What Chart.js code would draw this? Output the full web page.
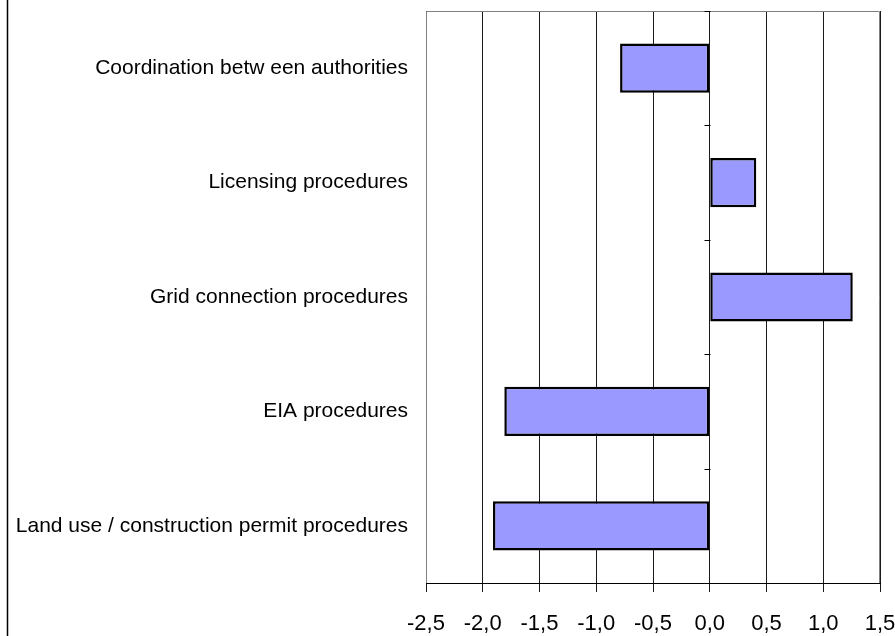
<!DOCTYPE html>
<html>
<head>
<meta charset="utf-8">
<script src="https://cdn.jsdelivr.net/npm/chart.js@4"></script>
<style>
  body { margin: 0; background: #fff; }
  #wrap { position: relative; width: 895px; height: 636px; }
</style>
</head>
<body>
<div id="wrap"><canvas id="myChart" width="895" height="636"></canvas></div>
<script>
let categories = [
  'Coordination betw een authorities',
  'Licensing procedures',
  'Grid connection procedures',
  'EIA procedures',
  'Land use / construction permit procedures'
];
let values = [-0.79, 0.41, 1.26, -1.81, -1.91];
let xMin = -2.5;
let xMax = 1.5;
let xStep = 0.5;

// plot frame, little ticks on the zero line and the left page border
let framePlugin = {
  id: 'frame',
  beforeDatasetsDraw(chart) {
    let ctx = chart.ctx;
    let a = chart.chartArea;
    let xs = chart.scales.x;
    let ys = chart.scales.y;
    ctx.save();
    ctx.strokeStyle = '#808080';
    ctx.lineWidth = 1;
    ctx.beginPath();
    ctx.moveTo(a.left + 0.5, a.bottom);
    ctx.lineTo(a.left + 0.5, a.top + 0.5);
    ctx.lineTo(a.right - 0.5, a.top + 0.5);
    ctx.lineTo(a.right - 0.5, a.bottom);
    ctx.stroke();

    let x0 = Math.round(xs.getPixelForValue(0)) + 0.5;
    let half = (ys.getPixelForValue(1) - ys.getPixelForValue(0)) / 2;
    ctx.strokeStyle = '#000';
    ctx.beginPath();
    for (let i = 0; i <= categories.length; i++) {
      let y = Math.round(ys.getPixelForValue(i) - half) + 0.5;
      ctx.moveTo(x0 - 6, y);
      ctx.lineTo(x0, y);
    }
    ctx.stroke();

    ctx.lineWidth = 1.5;
    ctx.beginPath();
    ctx.moveTo(7.5, 0);
    ctx.lineTo(7.5, chart.height);
    ctx.stroke();
    ctx.restore();
  }
};

let mychart = document.getElementById('myChart');

let chart = new Chart(mychart, {
  type: 'bar',
  data: {
    labels: categories,
    datasets: [{
      data: values,
      backgroundColor: '#9999ff',
      borderColor: '#000',
      borderWidth: 2.5,
      borderSkipped: false,
      barPercentage: 0.43,
      categoryPercentage: 1
    }]
  },
  options: {
    indexAxis: 'y',
    responsive: false,
    animation: false,
    devicePixelRatio: 1,
    layout: { padding: { top: 11, right: 15, left: 0, bottom: 0 } },
    plugins: {
      legend: { display: false },
      tooltip: { enabled: false }
    },
    scales: {
      x: {
        min: xMin,
        max: xMax,
        ticks: {
          stepSize: xStep,
          color: '#000',
          padding: 19,
          font: { family: 'Liberation Sans', size: 22 },
          callback: v => v.toFixed(1).replace('.', ',')
        },
        grid: {
          color: '#1a1a1a',
          lineWidth: 1,
          drawTicks: true,
          tickLength: 9
        },
        border: { color: '#000', width: 1 },
        afterFit: s => { s.height = 53; s.paddingLeft = 0; s.paddingRight = 0; }
      },
      y: {
        ticks: {
          color: '#000',
          padding: 10,
          font: { family: 'Liberation Sans', size: 21 }
        },
        grid: { display: false },
        border: { display: false },
        afterFit: s => { s.width = 426; s.paddingTop = 0; s.paddingBottom = 0; }
      }
    }
  },
  plugins: [framePlugin]
});
</script>
</body>
</html>
